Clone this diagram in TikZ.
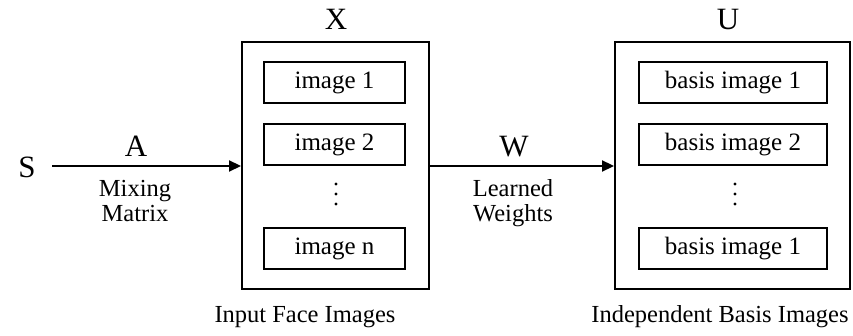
\documentclass[tikz,border=0pt]{standalone}
\usepackage{fontspec}
\setmainfont{Liberation Serif}
\usetikzlibrary{arrows.meta}
\begin{document}
\begin{tikzpicture}[x=1pt,y=-1pt,
  outerbox/.style={draw, line width=2pt, minimum width=#1, minimum height=247pt, inner sep=0pt},
  innerbox/.style={draw, line width=2pt, minimum width=#1, minimum height=41pt, inner sep=0pt, font=\fontsize{25}{28}\selectfont},
  big/.style={font=\fontsize{31}{34}\selectfont, inner sep=0pt},
  small/.style={font=\fontsize{24.5}{26}\selectfont, align=center, inner sep=0pt},
  arr/.style={line width=2.2pt, -{Triangle[length=12pt,width=11pt]}},
  dotm/.style={circle, fill, minimum size=3.2pt, inner sep=0pt}
]
\useasboundingbox (0,0) rectangle (853,336);
% outer boxes
\node[outerbox=187pt] (X) at (335.5,166) {};
\node[outerbox=235pt] (U) at (732.5,166) {};
% inner boxes X
\node[innerbox=141pt] (x1) at (334.5,83) {image 1};
\node[innerbox=141pt] (x2) at (334.5,145) {image 2};
\node[dotm] (xd1) at (336,184) {};
\node[dotm] (xd2) at (336,194) {};
\node[dotm] (xd3) at (336,204) {};
\node[innerbox=141pt] (xn) at (334.5,248.5) {image n};
% inner boxes U
\node[innerbox=188pt] (u1) at (733,83) {basis image 1};
\node[innerbox=188pt] (u2) at (733,145) {basis image 2};
\node[dotm] (ud1) at (735,184) {};
\node[dotm] (ud2) at (735,194) {};
\node[dotm] (ud3) at (735,204) {};
\node[innerbox=188pt] (un) at (733,248.5) {basis image 1};
% labels
\node[big, anchor=base] (Xl) at (336,30) {X};
\node[big, anchor=base] (Ul) at (728,30) {U};
\node[big, anchor=base] (S) at (27,178) {S};
\coordinate (Sr) at (52,166);
\node[big, anchor=base] (Al) at (136,157) {A};
\node[big, anchor=base] (Wl) at (514,157) {W};
\node[small, anchor=base] (mix) at (135,197) {Mixing};
\node[small, anchor=base] (mat) at (135,222) {Matrix};
\node[small, anchor=base] (lea) at (513,197) {Learned};
\node[small, anchor=base] (wei) at (513,222) {Weights};
\node[small, anchor=base] (inp) at (305,322) {Input Face Images};
\node[small, anchor=base] (ind) at (720,322) {Independent Basis Images};
% arrows
\draw[arr] (Sr) -- (X.west |- Sr);
\draw[arr] (X.east |- Sr) -- (U.west |- Sr);
\end{tikzpicture}
\end{document}
